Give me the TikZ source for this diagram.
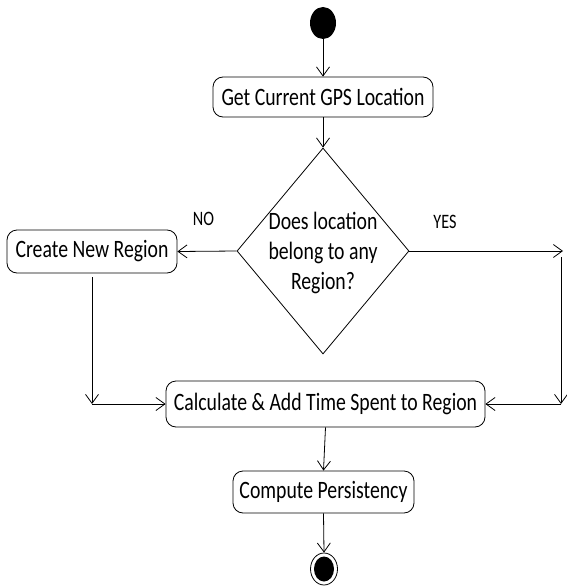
\documentclass[tikz,border=0pt]{standalone}
\usepackage{fontspec}
\setmainfont{Carlito}[FakeStretch=0.79]
\usetikzlibrary{arrows.meta,shapes.geometric,calc}
\begin{document}
\begin{tikzpicture}[x=1pt,y=-1pt,
  act/.style={draw, line width=0.8pt, rounded corners=10pt, inner sep=0pt,
    font=\fontsize{25}{28}\selectfont},
  flow/.style={draw, line width=0.8pt, -{Straight Barb[length=9pt,width=13pt,line width=0.8pt]}},
  lbl/.style={font=\fontsize{20.5}{23}\selectfont}]
\useasboundingbox (0,0) rectangle (566,586);

% start and end markers
\node[ellipse, fill=black, inner sep=0pt, minimum width=26pt, minimum height=32pt] (start) at (323,23) {};
\node[ellipse, draw, line width=0.8pt, inner sep=0pt, minimum width=27pt, minimum height=32pt] (stop) at (324,569) {};
\node[ellipse, fill=black, inner sep=0pt, minimum width=20pt, minimum height=25pt] (stopdot) at (stop) {};

% activities
\node[act, minimum width=220pt, minimum height=40pt] (gps) at (323,97) {Get Current GPS Location};
\node[act, minimum width=170pt, minimum height=43pt] (create) at (92,251.5) {Create New Region};
\node[act, minimum width=319pt, minimum height=46pt] (calc) at (325.5,404) {Calculate \& Add Time Spent to Region};
\node[act, minimum width=181pt, minimum height=42pt] (comp) at (323.5,492) {Compute Persistency};

% decision
\node[diamond, draw, line width=0.8pt, inner sep=0pt, minimum width=172pt, minimum height=206pt] (dec) at (323,251) {};
\node[align=center, font=\fontsize{25}{30}\selectfont] (q) at (323,253) {Does location\\belong to any\\Region?};

\node[lbl] (no) at (203.5,218.5) {NO};
\node[lbl] (yes) at (445,222) {YES};

% bend points of the side branches
\coordinate (ytip) at (563,251);
\coordinate (rtop) at (561,257);
\coordinate (rbot) at (561,404);
\coordinate (ltop) at ($(create.south)+(0,4)$);
\coordinate (lbot) at (92,404);

% connectors
\draw[flow] (start.south) -- (gps.north);
\draw[flow] (gps.south) -- (dec.north);
\draw[flow] (dec.west) -- (create.east);
\draw[flow] (dec.east) -- (ytip);
\draw[flow] (rtop) -- (rbot);
\draw[flow] (rbot) -- (calc.east);
\draw[flow] (ltop) -- (lbot);
\draw[flow] (lbot) -- (calc.west);
\draw[flow] (calc.south) -- (comp.north);
\draw[flow] (comp.south) -- (stop.north);
\end{tikzpicture}
\end{document}
